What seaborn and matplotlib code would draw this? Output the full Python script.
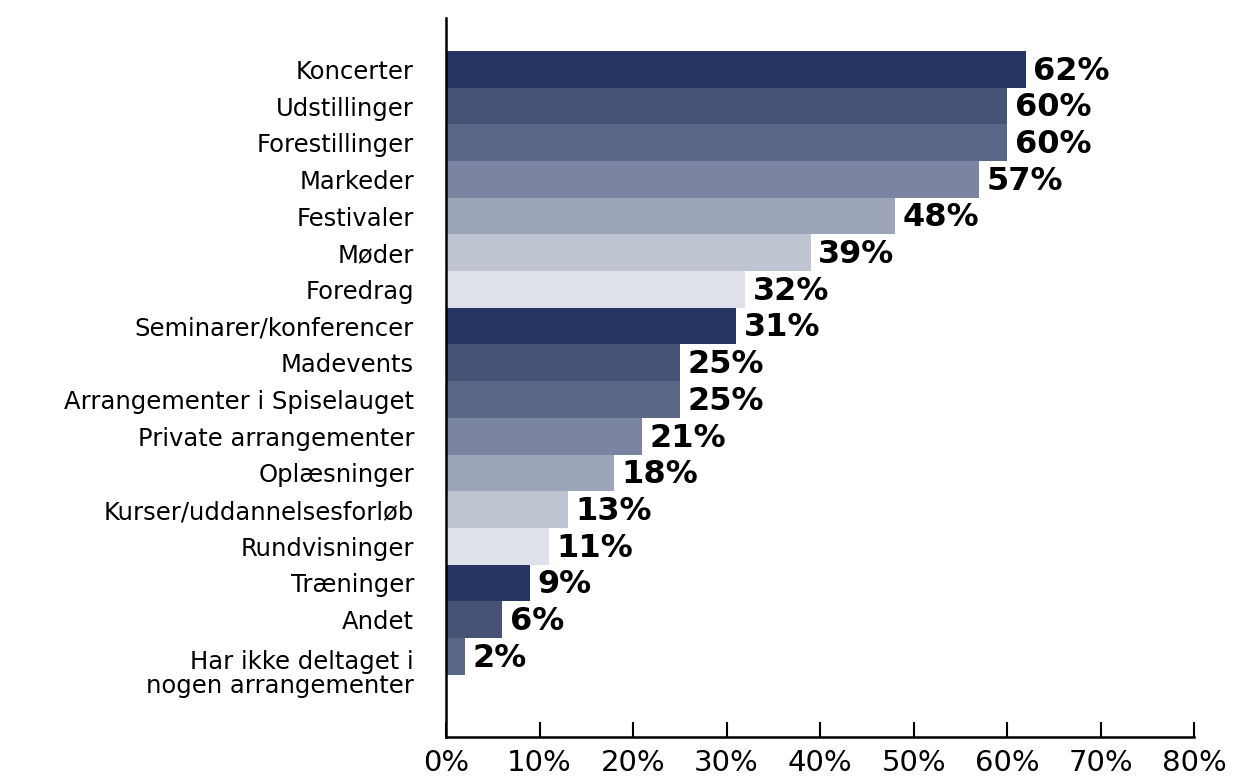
import pandas as pd
import matplotlib
matplotlib.use('Agg')
import matplotlib.pyplot as plt
import matplotlib.transforms as mtransforms
import seaborn as sns

# Data
categories = [
    'Koncerter', 'Udstillinger', 'Forestillinger', 'Markeder', 'Festivaler',
    'Møder', 'Foredrag', 'Seminarer/konferencer', 'Madevents',
    'Arrangementer i Spiselauget', 'Private arrangementer', 'Oplæsninger',
    'Kurser/uddannelsesforløb', 'Rundvisninger', 'Træninger', 'Andet',
    'Har ikke deltaget i\nnogen arrangementer',
]
values = [62, 60, 60, 57, 48, 39, 32, 31, 25, 25, 21, 18, 13, 11, 9, 6, 2]
shades = ['#263562', '#465377', '#5B6787', '#7B85A1', '#9DA5B8', '#BEC4D0', '#DEE1E9']
x_ticks = [0, 10, 20, 30, 40, 50, 60, 70, 80]

df = pd.DataFrame({'Kategori': categories, 'Andel': values})
palette = [shades[i % len(shades)] for i in range(len(categories))]

sns.set_style('white')
plt.rcParams['font.family'] = ['DejaVu Sans']
plt.rcParams['text.color'] = 'black'
plt.rcParams['xtick.color'] = 'black'
plt.rcParams['ytick.color'] = 'black'

fig = plt.figure(figsize=(12.37, 7.78), dpi=100)
ax = fig.add_axes([0.3606, 0.0527, 0.6047, 0.9242])

sns.barplot(data=df, x='Andel', y='Kategori', hue='Kategori', palette=palette,
            dodge=False, legend=False, width=1.0, saturation=1, linewidth=0, ax=ax)

for i, v in enumerate(values):
    ax.text(v + 0.8, i + 0.05, f'{v}%', va='center', ha='left',
            fontsize=23, fontweight='bold', color='black')

ax.set_xlim(0, 80)
ax.set_ylim(18.2, -1.4)
ax.set_xticks(x_ticks)
ax.set_xticklabels([f'{t}%' for t in x_ticks], fontsize=21)
ax.tick_params(axis='x', bottom=True, direction='in', length=11, width=1.5,
               color='black', labelcolor='black', pad=9)
ax.tick_params(axis='y', length=0, pad=23, labelsize=17.5, labelcolor='black')

# two-line label sits a bit below its bar in the original
last = ax.get_yticklabels()[-1]
last.set_linespacing(1.0)
last.set_transform(last.get_transform() +
                   mtransforms.ScaledTranslation(0, -15 / 100, fig.dpi_scale_trans))

ax.set_xlabel('')
ax.set_ylabel('')

for side in ['top', 'right']:
    ax.spines[side].set_visible(False)
for side in ['left', 'bottom']:
    ax.spines[side].set_color('black')
    ax.spines[side].set_linewidth(1.8)

fig.savefig('out.png', dpi=100)
